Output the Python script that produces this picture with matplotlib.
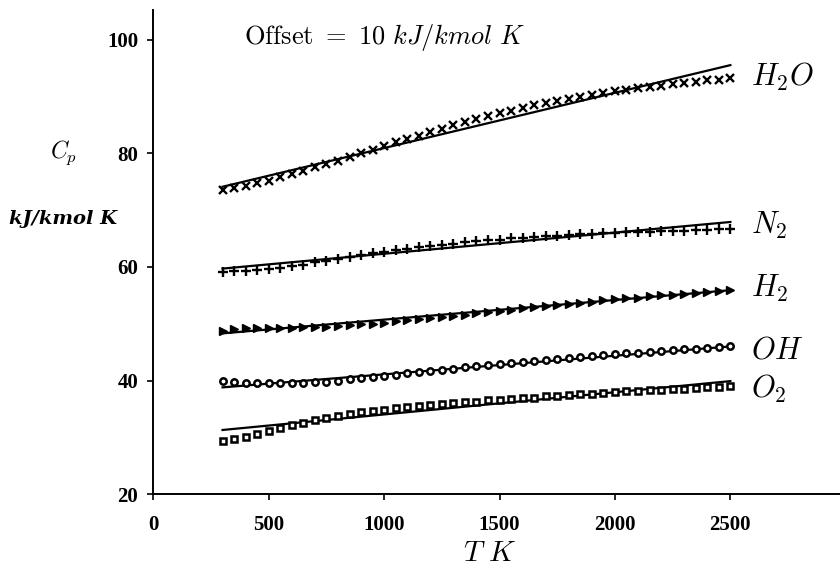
import matplotlib
matplotlib.use("Agg")
import matplotlib.pyplot as plt

plt.rcParams['mathtext.fontset'] = 'cm'

# temperatures (K), 50 K steps
T = list(range(300, 2550, 50))

# Cp values (kJ/kmol K) with 10 kJ/kmol K offsets between species
cp_o2 = [29.4, 29.7, 30.1, 30.6, 31.1, 31.6, 32.1, 32.5, 33.0, 33.4,
         33.7, 34.1, 34.4, 34.6, 34.9, 35.1, 35.3, 35.5, 35.7, 35.8,
         36.0, 36.2, 36.3, 36.5, 36.6, 36.8, 36.9, 37.0, 37.2, 37.3,
         37.4, 37.6, 37.7, 37.8, 37.9, 38.1, 38.2, 38.3, 38.4, 38.5,
         38.6, 38.7, 38.8, 38.9, 39.1]
cp_oh = [40.0, 39.8, 39.6, 39.5, 39.5, 39.5, 39.5, 39.6, 39.7, 39.8,
         40.0, 40.2, 40.4, 40.6, 40.8, 41.0, 41.3, 41.5, 41.7, 41.9,
         42.1, 42.3, 42.5, 42.7, 42.9, 43.1, 43.3, 43.5, 43.7, 43.8,
         44.0, 44.2, 44.3, 44.5, 44.6, 44.8, 44.9, 45.1, 45.2, 45.4,
         45.5, 45.6, 45.8, 45.9, 46.0]
cp_h2 = [48.8, 49.1, 49.2, 49.2, 49.3, 49.3, 49.3, 49.4, 49.4, 49.5,
         49.6, 49.8, 49.9, 50.0, 50.2, 50.4, 50.6, 50.8, 51.0, 51.2,
         51.4, 51.6, 51.9, 52.1, 52.3, 52.5, 52.7, 52.9, 53.1, 53.3,
         53.5, 53.7, 53.9, 54.1, 54.3, 54.5, 54.6, 54.8, 55.0, 55.1,
         55.3, 55.4, 55.6, 55.7, 55.9]
cp_n2 = [59.1, 59.2, 59.3, 59.4, 59.6, 59.8, 60.1, 60.4, 60.8, 61.1,
         61.4, 61.8, 62.1, 62.4, 62.7, 63.0, 63.2, 63.5, 63.7, 63.9,
         64.1, 64.3, 64.5, 64.7, 64.8, 65.0, 65.1, 65.3, 65.4, 65.5,
         65.6, 65.7, 65.8, 65.9, 66.0, 66.1, 66.1, 66.2, 66.3, 66.3,
         66.4, 66.5, 66.5, 66.6, 66.6]
cp_h2o = [73.6, 73.9, 74.3, 74.7, 75.2, 75.8, 76.3, 76.9, 77.5, 78.1,
          78.7, 79.4, 80.0, 80.6, 81.3, 81.9, 82.5, 83.1, 83.8, 84.3,
          84.9, 85.5, 86.1, 86.6, 87.1, 87.5, 88.0, 88.4, 88.8, 89.2,
          89.6, 89.9, 90.3, 90.6, 90.9, 91.1, 91.4, 91.6, 91.9, 92.1,
          92.3, 92.5, 92.8, 92.9, 93.3]

# linear fits, end points
fit_T = [300, 2500]
fit_o2 = [31.3, 39.9]
fit_oh = [38.8, 46.0]
fit_h2 = [48.3, 55.9]
fit_n2 = [59.7, 67.9]
fit_h2o = [74.1, 95.5]

species = [r'$O_2$', r'$OH$', r'$H_2$', r'$N_2$', r'$H_2O$']
label_y = [38.5, 45.3, 56.3, 67.3, 93.5]

fig = plt.figure(figsize=(8.4, 5.72), dpi=100)
ax = fig.add_axes([0.1825, 0.136, 0.8175, 0.8465])

ax.plot(fit_T, fit_o2, color='black', lw=1.6)
ax.plot(fit_T, fit_oh, color='black', lw=1.6)
ax.plot(fit_T, fit_h2, color='black', lw=1.6)
ax.plot(fit_T, fit_n2, color='black', lw=1.6)
ax.plot(fit_T, fit_h2o, color='black', lw=1.6)

ax.plot(T, cp_o2, 's', ms=4.3, mfc='white', mec='black', mew=1.8, ls='none')
ax.plot(T, cp_oh, 'o', ms=4.6, mfc='white', mec='black', mew=1.8, ls='none')
ax.plot(T, cp_h2, '>', ms=5.5, color='black', ls='none')
ax.plot(T, cp_n2, '+', ms=6.5, mew=1.7, color='black', ls='none')
ax.plot(T, cp_h2o, 'x', ms=5.5, mew=1.7, color='black', ls='none')

for name, yv in zip(species, label_y):
    ax.text(2590, yv, name, fontsize=22, va='center', ha='left')

ax.text(395, 100.3, r'$\mathrm{Offset}\ =\ 10\ kJ/kmol\ K$', fontsize=19,
        va='center', ha='left')

ax.set_xlim(0, 2975)
ax.set_ylim(20, 105.2)
ax.set_xticks([0, 500, 1000, 1500, 2000, 2500])
ax.set_yticks([20, 40, 60, 80, 100])
for lab in ax.get_xticklabels() + ax.get_yticklabels():
    lab.set_fontfamily('Liberation Serif')
    lab.set_fontweight('bold')
    lab.set_fontsize(15)

ax.spines['top'].set_visible(False)
ax.spines['right'].set_visible(False)
ax.spines['left'].set_linewidth(1.4)
ax.spines['bottom'].set_linewidth(1.4)
ax.tick_params(direction='out', length=4, width=1.2, pad=7)
ax.tick_params(axis='x', pad=11)

fig.text(0.076, 0.733, r'$C_p$', fontsize=17, ha='center', va='center')
fig.text(0.075, 0.618, 'kJ/kmol K', fontsize=14, ha='center', va='center',
         family='DejaVu Serif', style='italic', weight='bold')
fig.text(0.583, 0.033, r'$T\ K$', fontsize=21, ha='center', va='center')

fig.savefig('out.png', dpi=100)
